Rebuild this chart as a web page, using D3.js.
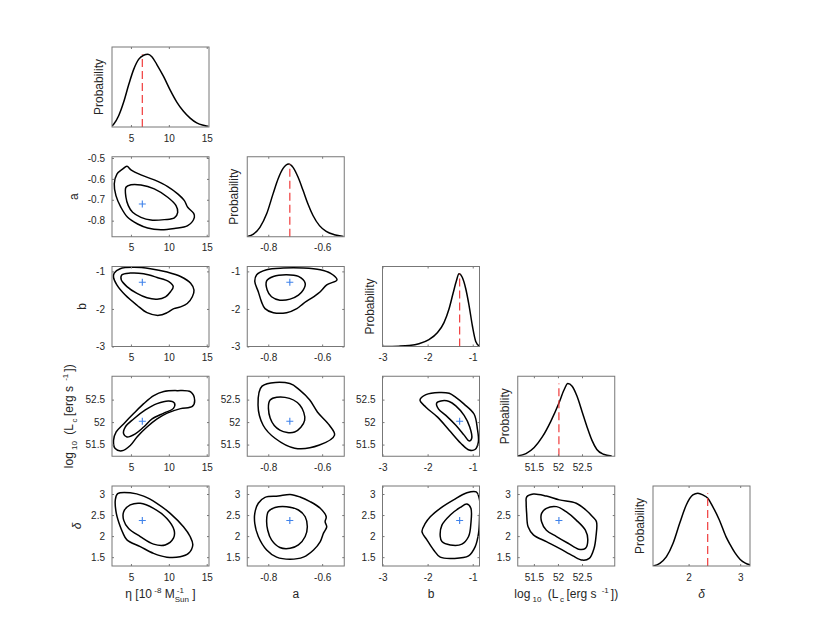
<!DOCTYPE html>
<html>
<head>
<meta charset="utf-8">
<script src="https://cdn.jsdelivr.net/npm/d3@7"></script>
<style>
body { margin: 0; background: #fff; }
svg { font-family: "Liberation Sans", Arial, Helvetica, sans-serif; }
</style>
</head>
<body>
<div id="chart"></div>
<script>
// parameters: eta, a, b, log10 Lc, delta
var xLims = [[2.5, 15.3], [-0.878, -0.518], [-3, -0.85], [51.165, 53.18], [1.31, 3.19]];
var yLims = [null, [-0.877, -0.494], [-3, -0.87], [51.24, 53.02], [1.29, 3.19]];
var xTicks = [[5, 10, 15], [-0.8, -0.6], [-3, -2, -1], [51.5, 52, 52.5], [2, 3]];
var yTicks = [null, [-0.8, -0.7, -0.6, -0.5], [-3, -2, -1], [51.5, 52, 52.5], [1.5, 2, 2.5, 3]];
var bestFit = [6.5, -0.72, -1.29, 52.02, 2.37];

// marginal probability curves (normalised to peak)
var pdfX = [
  [2.5, 2.72, 3.38, 4.04, 4.69, 5.35, 6.01, 6.67, 7.24, 7.76, 8.42, 9.30, 10.18, 11.05, 11.93, 12.81, 13.68, 14.56, 15.22],
  [-0.877, -0.855, -0.831, -0.806, -0.782, -0.763, -0.745, -0.724, -0.708, -0.690, -0.671, -0.653, -0.634, -0.610, -0.585, -0.555, -0.521],
  [-3.0, -2.637, -2.415, -2.193, -1.970, -1.785, -1.637, -1.526, -1.437, -1.363, -1.304, -1.230, -1.156, -1.081, -1.007, -0.933, -0.859],
  [51.164, 51.336, 51.507, 51.678, 51.849, 52.021, 52.123, 52.205, 52.295, 52.397, 52.5, 52.603, 52.705, 52.808, 52.945, 53.116],
  [1.314, 1.442, 1.571, 1.699, 1.827, 1.955, 2.083, 2.179, 2.276, 2.372, 2.468, 2.596, 2.724, 2.8, 2.9, 3.0, 3.1, 3.19]
];
var pdfP = [
  [0.015, 0.038, 0.155, 0.343, 0.577, 0.789, 0.930, 0.986, 1.0, 0.967, 0.859, 0.695, 0.507, 0.343, 0.216, 0.122, 0.056, 0.023, 0.009],
  [0.005, 0.037, 0.130, 0.315, 0.593, 0.801, 0.940, 1.0, 0.954, 0.824, 0.639, 0.454, 0.292, 0.153, 0.074, 0.028, 0.005],
  [0, 0.005, 0.014, 0.038, 0.094, 0.188, 0.329, 0.516, 0.728, 0.901, 1.0, 0.948, 0.798, 0.563, 0.282, 0.070, 0.009],
  [0.005, 0.037, 0.120, 0.269, 0.477, 0.731, 0.907, 1.0, 0.963, 0.824, 0.616, 0.407, 0.222, 0.093, 0.028, 0.005],
  [0, 0.037, 0.128, 0.312, 0.587, 0.839, 0.977, 1.0, 0.977, 0.931, 0.817, 0.633, 0.404, 0.30, 0.18, 0.09, 0.04, 0.015]
];

// 2D credible contours [x, y], per pair
var etaA = {
  outer: [[4.47,-0.540],[5.0,-0.557],[6.32,-0.581],[8.08,-0.605],[9.85,-0.637],[11.17,-0.672],[12.05,-0.704],[12.49,-0.736],[13.28,-0.765],[13.37,-0.784],[12.49,-0.824],[10.73,-0.837],[8.96,-0.843],[7.20,-0.835],[5.88,-0.816],[4.56,-0.784],[3.68,-0.736],[3.02,-0.680],[2.80,-0.624],[3.15,-0.577],[3.90,-0.553]],
  inner: [[4.34,-0.640],[5.0,-0.628],[6.32,-0.629],[8.08,-0.648],[9.85,-0.688],[10.95,-0.728],[11.17,-0.760],[10.73,-0.787],[9.41,-0.795],[7.64,-0.797],[6.32,-0.784],[5.22,-0.760],[4.65,-0.728],[4.34,-0.688]]
};
var etaB = {
  outer: [[2.79,-1.045],[3.58,-0.928],[5.35,-0.892],[7.57,-0.928],[9.78,-1.018],[11.55,-1.135],[12.88,-1.315],[13.32,-1.495],[13.10,-1.676],[12.43,-1.856],[11.55,-1.946],[10.66,-1.991],[9.78,-2.099],[8.67,-2.171],[7.12,-2.099],[5.80,-1.901],[4.25,-1.631],[3.14,-1.360],[2.70,-1.162]],
  inner: [[3.81,-1.090],[4.91,-1.045],[6.68,-1.063],[8.45,-1.162],[10.0,-1.270],[10.58,-1.405],[10.22,-1.541],[9.56,-1.676],[8.45,-1.739],[7.12,-1.703],[5.80,-1.586],[4.47,-1.405],[3.72,-1.225]]
};
var aB = {
  outer: [[-0.843,-1.090],[-0.806,-0.955],[-0.744,-0.910],[-0.670,-0.910],[-0.607,-0.955],[-0.570,-1.045],[-0.545,-1.225],[-0.583,-1.360],[-0.607,-1.541],[-0.632,-1.676],[-0.670,-1.856],[-0.694,-1.991],[-0.732,-2.099],[-0.781,-2.099],[-0.812,-1.991],[-0.825,-1.811],[-0.837,-1.541],[-0.850,-1.270]],
  inner: [[-0.806,-1.252],[-0.781,-1.135],[-0.732,-1.090],[-0.688,-1.135],[-0.663,-1.315],[-0.670,-1.495],[-0.688,-1.631],[-0.719,-1.739],[-0.757,-1.766],[-0.788,-1.676],[-0.804,-1.495]]
};
var etaL = {
  outer: [[2.70,51.59],[3.05,51.78],[4.03,51.96],[5.35,52.19],[6.68,52.41],[8.01,52.59],[9.34,52.68],[11.11,52.70],[12.88,52.67],[13.41,52.48],[13.10,52.35],[11.55,52.30],[9.78,52.20],[8.45,52.07],[7.12,51.89],[5.80,51.67],[4.91,51.48],[3.81,51.36],[2.92,51.41]],
  inner: [[4.03,51.74],[4.25,51.89],[5.35,52.07],[6.90,52.27],[8.45,52.41],[10.0,52.47],[10.75,52.42],[10.58,52.30],[9.34,52.20],[7.79,52.07],[6.68,51.89],[5.58,51.74],[4.47,51.67]]
};
var aL = {
  outer: [[-0.823,52.80],[-0.720,52.86],[-0.683,52.71],[-0.646,52.49],[-0.617,52.22],[-0.573,51.93],[-0.554,51.71],[-0.610,51.49],[-0.702,51.42],[-0.775,51.64],[-0.819,51.93],[-0.838,52.38]],
  inner: [[-0.793,52.49],[-0.738,52.55],[-0.683,52.38],[-0.665,52.04],[-0.702,51.78],[-0.757,51.82],[-0.793,52.09]]
};
var bL = {
  outer: [[-2.169,52.49],[-2.037,52.61],[-1.743,52.66],[-1.522,52.64],[-1.375,52.55],[-1.191,52.40],[-0.971,52.18],[-0.897,51.85],[-0.875,51.56],[-0.949,51.39],[-1.081,51.38],[-1.265,51.53],[-1.522,51.82],[-1.779,52.11],[-2.037,52.33]],
  inner: [[-1.801,52.42],[-1.706,52.47],[-1.522,52.46],[-1.375,52.36],[-1.191,52.15],[-1.066,51.89],[-1.022,51.64],[-1.081,51.58],[-1.191,51.71],[-1.375,51.93],[-1.596,52.15],[-1.757,52.29]]
};
var etaD = {
  outer: [[3.25,3.01],[4.91,3.03],[6.67,2.95],[8.42,2.78],[10.18,2.54],[11.93,2.22],[12.81,1.99],[13.16,1.79],[12.59,1.59],[11.49,1.51],[9.74,1.50],[7.98,1.59],[6.23,1.75],[4.47,1.91],[3.95,2.07],[3.60,2.22],[3.07,2.54],[2.94,2.86]],
  inner: [[4.04,2.58],[4.91,2.74],[6.23,2.78],[7.98,2.66],[9.74,2.42],[10.70,2.14],[10.61,1.95],[9.52,1.79],[7.98,1.81],[6.23,1.99],[4.69,2.18],[4.04,2.38]]
};
var aD = {
  outer: [[-0.850,2.54],[-0.837,2.78],[-0.812,2.92],[-0.763,2.95],[-0.719,2.99],[-0.682,2.93],[-0.645,2.82],[-0.607,2.66],[-0.585,2.46],[-0.589,2.34],[-0.583,2.22],[-0.595,2.07],[-0.607,1.87],[-0.632,1.67],[-0.670,1.50],[-0.719,1.45],[-0.769,1.50],[-0.806,1.67],[-0.837,1.99],[-0.850,2.30]],
  inner: [[-0.806,2.38],[-0.800,2.58],[-0.775,2.68],[-0.732,2.70],[-0.688,2.62],[-0.663,2.46],[-0.655,2.22],[-0.663,1.99],[-0.688,1.79],[-0.719,1.71],[-0.757,1.73],[-0.788,1.91],[-0.802,2.14]]
};
var bD = {
  outer: [[-2.125,2.11],[-2.052,2.30],[-1.941,2.46],[-1.720,2.66],[-1.424,2.86],[-1.129,3.03],[-0.923,3.05],[-0.849,2.86],[-0.849,2.46],[-0.871,2.07],[-0.945,1.75],[-1.092,1.53],[-1.424,1.47],[-1.720,1.50],[-1.867,1.67],[-2.015,1.91]],
  inner: [[-1.720,1.99],[-1.683,2.26],[-1.498,2.50],[-1.277,2.68],[-1.129,2.76],[-1.041,2.66],[-1.041,2.30],[-1.092,1.99],[-1.240,1.81],[-1.498,1.79],[-1.683,1.87]]
};
var LD = {
  outer: [[51.35,2.93],[51.49,3.00],[51.76,2.95],[52.03,2.86],[52.38,2.78],[52.58,2.62],[52.72,2.46],[52.80,2.34],[52.79,1.99],[52.75,1.71],[52.65,1.47],[52.51,1.43],[52.31,1.53],[52.03,1.71],[51.76,1.87],[51.49,2.03],[51.38,2.22],[51.35,2.54],[51.34,2.78]],
  inner: [[51.66,2.54],[51.76,2.66],[51.97,2.70],[52.17,2.58],[52.38,2.38],[52.57,2.14],[52.62,1.91],[52.57,1.71],[52.43,1.69],[52.21,1.83],[51.97,1.99],[51.76,2.14],[51.66,2.34]]
};
// [row, col] -> contour set
var pairs = [
  [1, 0, etaA], [2, 0, etaB], [2, 1, aB],
  [3, 0, etaL], [3, 1, aL], [3, 2, bL],
  [4, 0, etaD], [4, 1, aD], [4, 2, bD], [4, 3, LD]
];

// axis label text pieces: [text, kind, extra dx]
var etaLabel = [["\u03b7 [10", ""], [" -8", "sup"], [" M", ""], ["-1", "supfirst"], ["Sun", "subback"], [" ]", ""]];
var logLabel = [["log", ""], [" 10", "sub"], [" (L", "", 3], ["c", "sub", 1.5], ["[erg s", "", 2.5], [" -1", "sup", 3], ["])", "", 2]];
var xLabels = [etaLabel, [["a", ""]], [["b", ""]], logLabel, [["\u03b4", "it"]]];
var yLabels = [null, [["a", ""]], [["b", ""]], logLabel, [["\u03b4", "it"]]];

var width = 830, height = 636;
var colX0 = 112, colStep = 135.25, panelW = 97;
var rowY0 = 47, rowStep = 109.75, panelH = 80;
var pdfTop = 1.1;

var svg = d3.select("#chart").append("svg")
    .attr("width", width)
    .attr("height", height);

function richText(text, parts) {
    var small = 8;
    var shift = 0;
    var lastSup = null;
    parts.forEach(function(p) {
        var kind = p[1];
        var t = text.append("tspan").text(p[0]);
        var target = 0;
        var dx = p[2] || 0;
        if (kind === "sub" || kind === "subback") target = 4;
        if (kind === "sup" || kind === "supfirst") target = -5;
        if (kind !== "" && kind !== "it") t.style("font-size", small + "px");
        if (kind === "it") t.style("font-style", "italic");
        if (kind === "supfirst") { dx += 2; lastSup = t; }
        if (kind === "subback") dx -= lastSup.node().getComputedTextLength() + 2;
        if (dx) t.attr("dx", dx);
        t.attr("dy", target - shift);
        shift = target;
    });
}

function panel(row, col) {
    var g = svg.append("g")
        .attr("transform", "translate(" + (colX0 + col * colStep) + "," + (rowY0 + row * rowStep) + ")");
    var id = "clip" + row + col;
    g.append("clipPath").attr("id", id)
        .append("rect").attr("width", panelW).attr("height", panelH);
    return { g: g, clip: "url(#" + id + ")" };
}

function axes(g, x, y, col, row, showY) {
    var fmt = function(d) { return String(d); };
    g.append("g")
        .attr("transform", "translate(0," + panelH + ")")
        .call(d3.axisBottom(x).tickValues(xTicks[col]).tickSize(-2).tickPadding(7.5).tickFormat(fmt));
    g.append("g").call(d3.axisTop(x).tickValues(xTicks[col]).tickSize(-2).tickFormat(""));
    var ya = null;
    if (showY) {
        ya = g.append("g")
            .call(d3.axisLeft(y).tickValues(yTicks[row]).tickSize(-2).tickPadding(7).tickFormat(fmt));
        g.append("g").attr("transform", "translate(" + panelW + ",0)")
            .call(d3.axisRight(y).tickValues(yTicks[row]).tickSize(-2).tickFormat(""));
    }
    g.selectAll(".domain").remove();
    g.selectAll(".tick line").attr("stroke", "#777");
    g.selectAll(".tick text").attr("fill", "#262626").style("font-size", "10px")
        .style("font-family", "'Liberation Sans', Arial, sans-serif");
    g.append("rect")
        .attr("width", panelW)
        .attr("height", panelH)
        .attr("fill", "none")
        .attr("stroke", "#777")
        .attr("stroke-width", 1);
    return ya;
}

// diagonal: marginal probabilities
for (var k = 0; k < 5; k++) {
    var p = panel(k, k);
    var x = d3.scaleLinear().domain(xLims[k]).range([0, panelW]);
    var y = d3.scaleLinear().domain([0, pdfTop]).range([panelH, 0]);
    var pts = pdfX[k].map(function(v, i) { return [v, pdfP[k][i]]; });
    p.g.append("path")
        .attr("clip-path", p.clip)
        .attr("d", d3.line().x(d => x(d[0])).y(d => y(d[1])).curve(d3.curveMonotoneX)(pts))
        .attr("fill", "none")
        .attr("stroke", "#000")
        .attr("stroke-width", 1.5);
    p.g.append("line")
        .attr("x1", x(bestFit[k])).attr("x2", x(bestFit[k]))
        .attr("y1", y(0)).attr("y2", y(1))
        .attr("stroke", "#f03c3c")
        .attr("stroke-width", 1.2)
        .attr("stroke-dasharray", "8,4");
    axes(p.g, x, y, k, k, false);
    p.g.append("text")
        .attr("transform", "translate(-9," + (panelH / 2) + ") rotate(-90)")
        .attr("text-anchor", "middle")
        .style("font-size", "12px")
        .attr("fill", "#262626")
        .text("Probability");
}

// off-diagonal: credible contours
var yTickLeft = {};
pairs.forEach(function(pr) {
    var row = pr[0], col = pr[1], c = pr[2];
    var p = panel(row, col);
    var x = d3.scaleLinear().domain(xLims[col]).range([0, panelW]);
    var y = d3.scaleLinear().domain(yLims[row]).range([panelH, 0]);
    var line = d3.line().x(d => x(d[0])).y(d => y(d[1])).curve(d3.curveCatmullRomClosed.alpha(0.5));
    [c.outer, c.inner].forEach(function(ring) {
        p.g.append("path")
            .attr("clip-path", p.clip)
            .attr("d", line(ring))
            .attr("fill", "none")
            .attr("stroke", "#000")
            .attr("stroke-width", 1.5);
    });
    var bx = x(bestFit[col]), by = y(bestFit[row]);
    p.g.append("path")
        .attr("d", "M" + (bx - 3.5) + "," + by + "H" + (bx + 3.5) + "M" + bx + "," + (by - 3.5) + "V" + (by + 3.5))
        .attr("stroke", "#3f82ea")
        .attr("stroke-width", 1.1);
    var ya = axes(p.g, x, y, col, row, true);
    if (col === 0) yTickLeft[row] = ya.node().getBoundingClientRect().left;
});

// y labels on first column
for (var r = 1; r < 5; r++) {
    var cy = rowY0 + r * rowStep + panelH / 2;
    var t = svg.append("text")
        .attr("transform", "translate(0," + cy + ") rotate(-90)")
        .attr("text-anchor", "middle")
        .style("font-size", "12px")
        .attr("fill", "#262626");
    richText(t, yLabels[r]);
    var bb = t.node().getBoundingClientRect();
    var shiftX = yTickLeft[r] - 7 - bb.right;
    t.attr("transform", "translate(" + shiftX + "," + cy + ") rotate(-90)");
}

// x labels on bottom row
for (var c2 = 0; c2 < 5; c2++) {
    var t2 = svg.append("text")
        .attr("x", colX0 + c2 * colStep + panelW / 2)
        .attr("y", rowY0 + 4 * rowStep + panelH + 32)
        .attr("text-anchor", "middle")
        .style("font-size", "12px")
        .attr("fill", "#262626");
    richText(t2, xLabels[c2]);
}
</script>
</body>
</html>
